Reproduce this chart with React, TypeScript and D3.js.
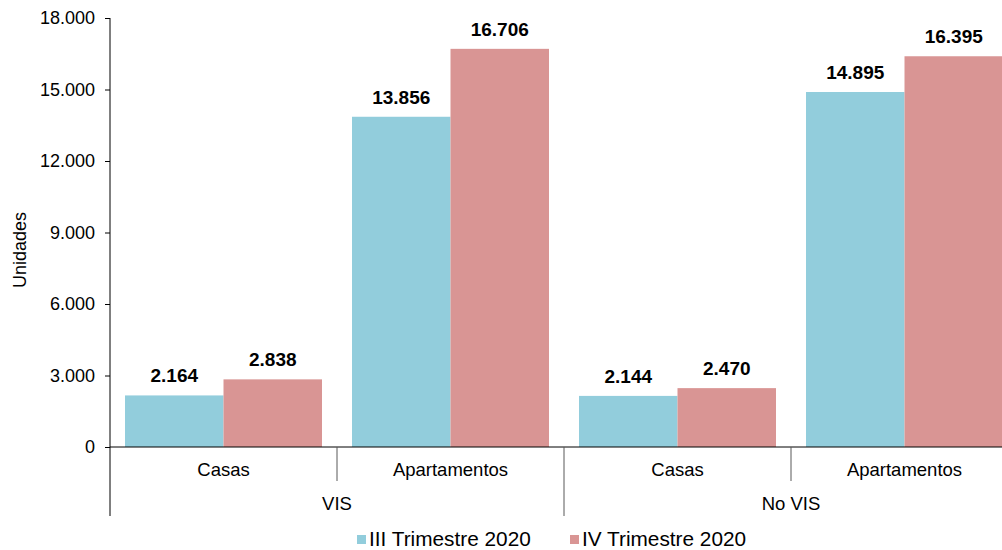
import React, { useEffect, useRef } from "react";
import * as d3 from "d3";

// chart data
const groups = ["VIS", "No VIS"];
const categories = ["Casas", "Apartamentos", "Casas", "Apartamentos"];
const categoryGroup = [0, 0, 1, 1];
const seriesNames = ["III Trimestre 2020", "IV Trimestre 2020"];
const serie3 = [2164, 13856, 2144, 14895];
const serie4 = [2838, 16706, 2470, 16395];
const yTicks = [0, 3000, 6000, 9000, 12000, 15000, 18000];
const colors = ["#92CDDC", "#D99594"];

const WIDTH = 1002;
const HEIGHT = 550;

const fmt = (v: number) => (v === 0 ? "0" : d3.format(",")(v).replace(/,/g, "."));

const App = () => {
  const ref = useRef<SVGSVGElement | null>(null);

  useEffect(() => {
    const svg = d3.select(ref.current);
    svg.selectAll("*").remove();
    const font = "'Liberation Sans', Arial, sans-serif";

    const left = 110;
    const right = 1018;
    const top = 18;
    const bottom = 447;

    const y = d3.scaleLinear().domain([0, 18000]).range([bottom, top]);
    const x = d3
      .scaleBand<number>()
      .domain(d3.range(categories.length))
      .range([left, right])
      .paddingInner(0)
      .paddingOuter(0);
    const inner = d3
      .scaleBand<number>()
      .domain([0, 1])
      .range([15, x.bandwidth() - 15]);

    // y axis
    const yAxis = d3
      .axisLeft(y)
      .tickValues(yTicks)
      .tickSize(5)
      .tickPadding(10)
      .tickFormat((d) => fmt(d as number));
    const gy = svg.append("g").attr("transform", `translate(${left},0)`).call(yAxis);
    gy.select(".domain").remove();
    gy.selectAll("line").attr("stroke", "#000");
    gy.selectAll("text")
      .attr("font-family", font)
      .attr("font-size", 18)
      .attr("fill", "#000");
    svg
      .append("line")
      .attr("x1", left)
      .attr("x2", left)
      .attr("y1", top)
      .attr("y2", 516)
      .attr("stroke", "#000");

    svg
      .append("text")
      .attr("transform", `translate(26,250) rotate(-90)`)
      .attr("text-anchor", "middle")
      .attr("font-family", font)
      .attr("font-size", 18)
      .text("Unidades");

    // bars
    const series = [serie3, serie4];
    series.forEach((vals, s) => {
      svg
        .append("g")
        .selectAll("rect")
        .data(vals)
        .enter()
        .append("rect")
        .attr("x", (d, i) => (x(i) as number) + (inner(s) as number))
        .attr("y", (d) => y(d))
        .attr("width", inner.bandwidth())
        .attr("height", (d) => bottom - y(d))
        .attr("fill", colors[s]);

      svg
        .append("g")
        .selectAll("text")
        .data(vals)
        .enter()
        .append("text")
        .attr("x", (d, i) => (x(i) as number) + (inner(s) as number) + inner.bandwidth() / 2)
        .attr("y", (d) => y(d) - 13)
        .attr("text-anchor", "middle")
        .attr("font-family", font)
        .attr("font-size", 19)
        .attr("font-weight", "bold")
        .text((d) => fmt(d));
    });

    // x axis
    svg
      .append("line")
      .attr("x1", left)
      .attr("x2", WIDTH)
      .attr("y1", bottom)
      .attr("y2", bottom)
      .attr("stroke", "#000");

    categories.forEach((c, i) => {
      const x0 = x(i) as number;
      if (i > 0) {
        const groupEdge = categoryGroup[i] !== categoryGroup[i - 1];
        svg
          .append("line")
          .attr("x1", x0)
          .attr("x2", x0)
          .attr("y1", bottom)
          .attr("y2", groupEdge ? 516 : 481)
          .attr("stroke", "#595959");
      }
      svg
        .append("text")
        .attr("x", x0 + x.bandwidth() / 2)
        .attr("y", 476)
        .attr("text-anchor", "middle")
        .attr("font-family", font)
        .attr("font-size", 18.5)
        .text(c);
    });

    groups.forEach((g, gi) => {
      const idx = categoryGroup
        .map((v, i) => (v === gi ? i : -1))
        .filter((i) => i >= 0);
      const x0 = x(idx[0]) as number;
      const x1 = (x(idx[idx.length - 1]) as number) + x.bandwidth();
      svg
        .append("text")
        .attr("x", (x0 + x1) / 2)
        .attr("y", 510)
        .attr("text-anchor", "middle")
        .attr("font-family", font)
        .attr("font-size", 18.5)
        .text(g);
    });

    // legend
    const legendX = [357, 570];
    seriesNames.forEach((name, s) => {
      const lg = svg.append("g").attr("transform", `translate(${legendX[s]},535)`);
      lg.append("rect").attr("width", 9).attr("height", 9).attr("fill", colors[s]);
      lg.append("text")
        .attr("x", 12)
        .attr("y", 11)
        .attr("font-family", font)
        .attr("font-size", 20.8)
        .text(name);
    });
  }, []);

  return (
    <svg
      ref={ref}
      width={WIDTH}
      height={HEIGHT}
      style={{ position: "absolute", left: 0, top: 0, background: "#fff" }}
    />
  );
};

export default App;
